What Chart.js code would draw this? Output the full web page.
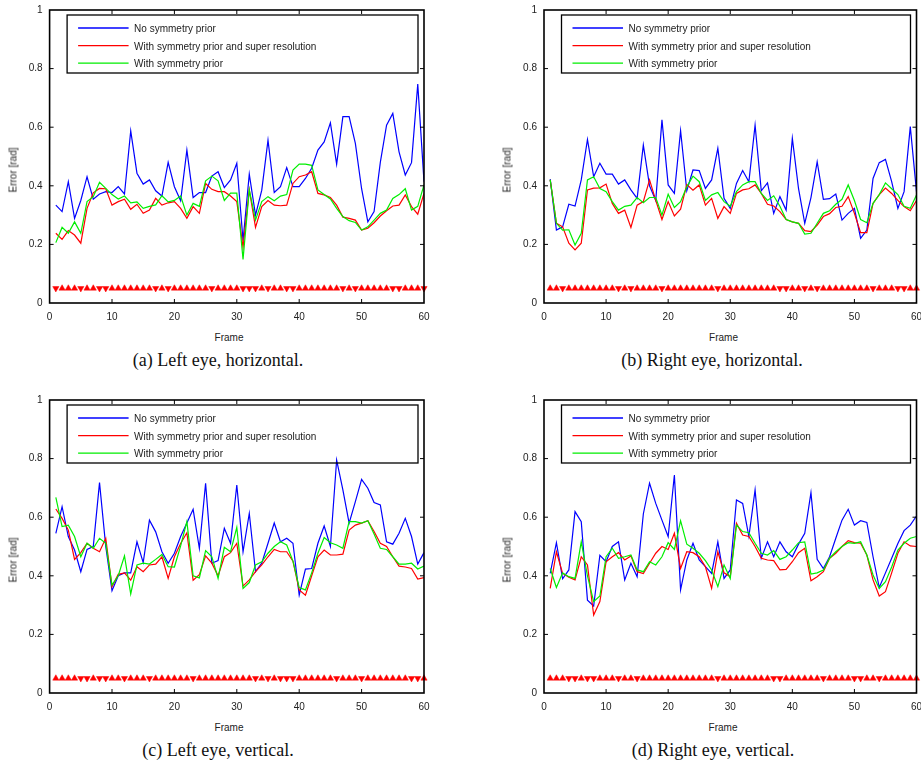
<!DOCTYPE html>
<html>
<head>
<meta charset="utf-8">
<script src="https://cdn.jsdelivr.net/npm/chart.js@4/dist/chart.umd.min.js"></script>
<style>
  html, body { margin: 0; padding: 0; background: #fff; }
  body { width: 921px; height: 764px; position: relative; overflow: hidden; }
  canvas { position: absolute; }
  .lbl { position: absolute; font-family: "Liberation Sans", Arial, sans-serif; font-size: 10px; color: #222; white-space: nowrap; transform: translate(-50%, -50%); }
  .ylbl { transform: translate(-50%, -50%) rotate(-90deg); }
  .cap { position: absolute; font-family: "Liberation Serif", "Times New Roman", serif; font-size: 18px; color: #111; white-space: nowrap; transform: translate(-50%, -50%); }
</style>
</head>
<body>
<script>
// ---------- data ----------
const frames = [1,2,3,4,5,6,7,8,9,10,11,12,13,14,15,16,17,18,19,20,21,22,23,24,25,26,27,28,29,30,
                31,32,33,34,35,36,37,38,39,40,41,42,43,44,45,46,47,48,49,50,51,52,53,54,55,56,57,58,59,60];
const seriesNames = ["No symmetry prior", "With symmetry prior and super resolution", "With symmetry prior"];
const xTicks = [0, 10, 20, 30, 40, 50, 60];
const xTickLabels = ["0", "10", "20", "30", "40", "50", "60"];
const yTicks = [0, 0.2, 0.4, 0.6, 0.8, 1];
const yTickLabels = ["0", "0.2", "0.4", "0.6", "0.8", "1"];
const markerLevel = 0.05;
const captions = ["(a) Left eye, horizontal.", "(b) Right eye, horizontal.", "(c) Left eye, vertical.", "(d) Right eye, vertical."];
const xTitle = "Frame";
const yTitle = "Error [rad]";

// (a) Left eye, horizontal
const aBlue = [0.334,0.312,0.414,0.289,0.35,0.431,0.354,0.372,0.38,0.377,
               0.397,0.372,0.587,0.443,0.406,0.42,0.383,0.365,0.48,0.397,
               0.349,0.522,0.36,0.377,0.377,0.433,0.448,0.394,0.42,0.477,
               0.213,0.44,0.30,0.385,0.556,0.377,0.397,0.462,0.397,0.397,
               0.425,0.46,0.522,0.55,0.615,0.474,0.636,0.636,0.545,0.39,
               0.277,0.312,0.48,0.607,0.647,0.516,0.437,0.479,0.747,0.414];
const aRed  = [0.238,0.217,0.247,0.232,0.204,0.323,0.376,0.391,0.39,0.334,
               0.346,0.354,0.32,0.337,0.306,0.317,0.357,0.334,0.342,0.346,
               0.323,0.289,0.329,0.306,0.408,0.388,0.38,0.38,0.365,0.346,
               0.19,0.386,0.258,0.329,0.35,0.334,0.332,0.334,0.408,0.431,
               0.437,0.448,0.374,0.369,0.36,0.334,0.293,0.289,0.283,0.249,
               0.255,0.274,0.297,0.315,0.331,0.334,0.369,0.329,0.303,0.374];
const aGreen= [0.206,0.258,0.238,0.277,0.238,0.346,0.363,0.412,0.391,0.37,
               0.355,0.365,0.342,0.345,0.323,0.33,0.335,0.366,0.345,0.35,
               0.365,0.30,0.34,0.33,0.417,0.433,0.417,0.35,0.375,0.375,
               0.149,0.386,0.283,0.346,0.363,0.349,0.365,0.37,0.454,0.474,
               0.474,0.47,0.386,0.37,0.355,0.323,0.295,0.281,0.275,0.249,
               0.26,0.283,0.306,0.317,0.357,0.37,0.39,0.317,0.33,0.403];
const aDir  = [-1,1,1,1,-1,1,1,-1,-1,1, 1,1,1,1,1,1,-1,1,-1,1, 1,1,1,1,1,-1,1,1,1,1,
               -1,-1,-1,1,-1,1,1,-1,-1,1, 1,1,1,1,1,1,-1,1,-1,1, 1,1,1,1,-1,-1,1,1,1,-1];

// (b) Right eye, horizontal
const bBlue = [0.423,0.249,0.26,0.337,0.331,0.42,0.558,0.431,0.477,0.44,
               0.44,0.406,0.42,0.386,0.357,0.539,0.40,0.35,0.625,0.403,
               0.374,0.588,0.383,0.454,0.452,0.391,0.42,0.528,0.357,0.323,
               0.408,0.452,0.414,0.607,0.383,0.41,0.306,0.363,0.317,0.562,
               0.39,0.272,0.36,0.482,0.354,0.356,0.372,0.283,0.306,0.323,
               0.221,0.249,0.425,0.479,0.49,0.414,0.323,0.38,0.602,0.38];
const bRed  = [0.42,0.272,0.26,0.204,0.181,0.204,0.386,0.392,0.393,0.406,
               0.34,0.306,0.317,0.258,0.334,0.346,0.42,0.35,0.285,0.346,
               0.297,0.32,0.404,0.385,0.403,0.334,0.357,0.289,0.329,0.306,
               0.374,0.386,0.39,0.403,0.374,0.337,0.331,0.312,0.285,0.277,
               0.272,0.247,0.244,0.266,0.295,0.305,0.326,0.33,0.363,0.306,
               0.24,0.24,0.34,0.37,0.392,0.374,0.35,0.329,0.315,0.35];
const bGreen= [0.42,0.272,0.249,0.25,0.198,0.238,0.42,0.431,0.391,0.38,
               0.346,0.317,0.33,0.334,0.36,0.342,0.36,0.36,0.30,0.371,
               0.326,0.346,0.397,0.433,0.414,0.35,0.369,0.377,0.346,0.33,
               0.38,0.403,0.414,0.414,0.374,0.35,0.366,0.33,0.285,0.277,
               0.272,0.235,0.238,0.272,0.306,0.315,0.337,0.354,0.403,0.35,
               0.285,0.274,0.34,0.37,0.41,0.39,0.37,0.33,0.323,0.369];
const bDir  = [1,1,-1,1,1,1,1,1,1,1, 1,-1,1,-1,1,1,1,1,-1,1, 1,1,1,1,1,1,1,-1,1,1,
               1,1,1,1,1,1,1,-1,-1,1, 1,-1,1,-1,1,1,1,1,1,1, 1,1,-1,1,1,1,-1,-1,1,1];

// (c) Left eye, vertical
const cBlue = [0.545,0.636,0.534,0.488,0.414,0.49,0.5,0.718,0.5,0.349,
               0.40,0.41,0.41,0.516,0.445,0.59,0.55,0.482,0.443,0.477,
               0.534,0.58,0.627,0.494,0.716,0.443,0.452,0.562,0.511,0.71,
               0.482,0.613,0.414,0.443,0.511,0.58,0.516,0.528,0.511,0.334,
               0.423,0.425,0.511,0.57,0.5,0.795,0.693,0.58,0.653,0.729,
               0.699,0.65,0.642,0.516,0.508,0.545,0.596,0.534,0.44,0.479];
const cRed  = [0.628,0.596,0.556,0.456,0.479,0.511,0.494,0.482,0.528,0.363,
               0.405,0.41,0.385,0.431,0.414,0.437,0.44,0.465,0.391,0.465,
               0.51,0.547,0.385,0.404,0.468,0.443,0.40,0.465,0.479,0.511,
               0.365,0.386,0.414,0.437,0.465,0.49,0.482,0.482,0.45,0.352,
               0.334,0.40,0.465,0.488,0.471,0.471,0.474,0.556,0.573,0.58,
               0.588,0.551,0.511,0.5,0.465,0.433,0.43,0.425,0.389,0.394];
const cGreen= [0.668,0.568,0.573,0.534,0.465,0.511,0.494,0.528,0.511,0.368,
               0.40,0.468,0.338,0.437,0.443,0.44,0.456,0.473,0.431,0.43,
               0.502,0.585,0.40,0.393,0.486,0.465,0.391,0.497,0.482,0.565,
               0.357,0.377,0.437,0.448,0.477,0.5,0.516,0.505,0.45,0.36,
               0.352,0.41,0.477,0.531,0.513,0.505,0.494,0.585,0.585,0.58,
               0.588,0.543,0.494,0.49,0.465,0.44,0.44,0.443,0.423,0.433];
const cDir  = [1,1,1,1,-1,-1,1,-1,-1,1, 1,-1,1,1,1,-1,1,1,1,1, 1,1,-1,1,1,1,1,1,1,1,
               1,1,-1,1,-1,1,-1,-1,-1,1, 1,1,1,1,1,-1,1,1,1,-1, 1,1,1,1,1,1,1,-1,-1,1];

// (d) Right eye, vertical
const dBlue = [0.408,0.513,0.39,0.42,0.619,0.585,0.317,0.297,0.47,0.448,
               0.5,0.516,0.386,0.443,0.397,0.611,0.716,0.647,0.59,0.534,
               0.744,0.352,0.454,0.511,0.454,0.431,0.408,0.516,0.391,0.42,
               0.659,0.647,0.534,0.693,0.46,0.516,0.465,0.516,0.482,0.465,
               0.508,0.545,0.684,0.456,0.425,0.465,0.528,0.59,0.627,0.573,
               0.588,0.582,0.465,0.36,0.41,0.46,0.51,0.554,0.573,0.604];
const dRed  = [0.357,0.482,0.408,0.395,0.386,0.465,0.437,0.266,0.312,0.448,
               0.465,0.479,0.454,0.468,0.414,0.408,0.443,0.477,0.5,0.49,
               0.545,0.425,0.482,0.479,0.465,0.431,0.357,0.482,0.41,0.397,
               0.579,0.539,0.534,0.5,0.46,0.454,0.452,0.42,0.422,0.448,
               0.479,0.494,0.383,0.397,0.414,0.46,0.477,0.5,0.52,0.513,
               0.511,0.471,0.386,0.331,0.346,0.41,0.477,0.516,0.502,0.50];
const dGreen= [0.425,0.36,0.41,0.397,0.391,0.516,0.40,0.312,0.331,0.465,
               0.494,0.46,0.465,0.471,0.42,0.414,0.448,0.437,0.465,0.513,
               0.49,0.588,0.508,0.494,0.477,0.452,0.42,0.363,0.437,0.391,
               0.573,0.551,0.547,0.511,0.477,0.471,0.486,0.456,0.465,0.488,
               0.513,0.516,0.406,0.41,0.42,0.46,0.482,0.5,0.513,0.511,
               0.516,0.471,0.403,0.357,0.38,0.43,0.488,0.511,0.528,0.534];
const dDir  = [1,1,1,-1,-1,1,-1,-1,1,1, 1,-1,1,1,-1,1,1,1,1,1, 1,1,1,1,1,1,1,-1,1,1,
               1,1,1,1,1,1,-1,-1,1,1, 1,1,1,1,-1,1,1,1,1,-1, -1,1,1,-1,1,1,1,1,1,1];

// ---------- layout ----------
const colors = ["#0000ff", "#ff0000", "#00ee00"];
const panels = [
  { series: [aBlue, aRed, aGreen], dir: aDir, left: 0,   top: 0,   w: 460, padL: 49.6, padR: 36,  ylx: 13,    fx: 229,   capx: 218 },
  { series: [bBlue, bRed, bGreen], dir: bDir, left: 460, top: 0,   w: 461, padL: 84,   padR: 2.6, ylx: 506.7, fx: 723.5, capx: 712 },
  { series: [cBlue, cRed, cGreen], dir: cDir, left: 0,   top: 390, w: 460, padL: 49.6, padR: 36,  ylx: 13,    fx: 229,   capx: 218 },
  { series: [dBlue, dRed, dGreen], dir: dDir, left: 460, top: 390, w: 461, padL: 84,   padR: 2.6, ylx: 506.7, fx: 723,   capx: 713 }
];
const CH = 330, PT = 10, PB = 303;

const framePlugin = {
  id: 'gnuframe',
  afterDatasetsDraw(chart) {
    const ctx = chart.ctx, ca = chart.chartArea;
    const xs = chart.scales.x, ys = chart.scales.y;
    ctx.save();
    ctx.strokeStyle = '#000';
    ctx.lineWidth = 1;
    ctx.beginPath();
    xs.ticks.forEach(t => {
      const px = xs.getPixelForValue(t.value);
      if (px <= ca.left + 1 || px >= ca.right - 1) return;
      ctx.moveTo(px, ca.bottom); ctx.lineTo(px, ca.bottom - 4);
      ctx.moveTo(px, ca.top); ctx.lineTo(px, ca.top + 4);
    });
    ys.ticks.forEach(t => {
      const py = ys.getPixelForValue(t.value);
      if (py <= ca.top + 1 || py >= ca.bottom - 1) return;
      ctx.moveTo(ca.left, py); ctx.lineTo(ca.left + 4, py);
      ctx.moveTo(ca.right, py); ctx.lineTo(ca.right - 4, py);
    });
    ctx.stroke();
    ctx.lineWidth = 1.6;
    ctx.strokeRect(ca.left, ca.top, ca.right - ca.left, ca.bottom - ca.top);
    // legend box
    const bx = ca.left + 17.5, by = ca.top + 5, bw = (ca.right - 6) - bx, bh = 58;
    ctx.lineWidth = 1.3;
    ctx.strokeRect(bx, by, bw, bh);
    ctx.font = '10px "Liberation Sans", Arial, sans-serif';
    ctx.textBaseline = 'middle';
    ctx.textAlign = 'left';
    ctx.fillStyle = '#222';
    let row = 0;
    chart.data.datasets.forEach(ds => {
      if (!ds.inLegend) return;
      const y = ca.top + 18 + row * 17.6;
      ctx.strokeStyle = ds.borderColor;
      ctx.lineWidth = 1.3;
      ctx.beginPath(); ctx.moveTo(ca.left + 28.5, y); ctx.lineTo(ca.left + 79, y); ctx.stroke();
      ctx.fillText(ds.label, ca.left + 84.5, y + 1.5);
      row++;
    });
    ctx.restore();
  }
};

function addDiv(cls, text, x, y) {
  const d = document.createElement('div');
  d.className = cls;
  d.textContent = text;
  d.style.left = x + 'px';
  d.style.top = y + 'px';
  document.body.appendChild(d);
}

panels.forEach((p, idx) => {
  const cv = document.createElement('canvas');
  cv.width = p.w; cv.height = CH;
  cv.style.left = p.left + 'px'; cv.style.top = p.top + 'px';
  cv.style.width = p.w + 'px'; cv.style.height = CH + 'px';
  document.body.appendChild(cv);

  const datasets = p.series.map((s, i) => ({
    label: seriesNames[i],
    inLegend: true,
    data: frames.map((f, k) => ({ x: f, y: s[k] })),
    borderColor: colors[i],
    backgroundColor: colors[i],
    borderWidth: 1.2,
    pointRadius: 0,
    tension: 0,
    fill: false,
    order: 3 - i
  }));
  datasets.push({
    label: 'marker',
    inLegend: false,
    data: frames.map(f => ({ x: f, y: markerLevel })),
    showLine: false,
    pointStyle: 'triangle',
    pointRadius: 3.6,
    pointRotation: p.dir.map(d => d > 0 ? 0 : 180),
    pointBackgroundColor: '#ff0000',
    pointBorderColor: '#ff0000',
    pointBorderWidth: 0.5,
    borderColor: '#ff0000',
    clip: false,
    order: 5
  });

  new Chart(cv, {
    type: 'line',
    data: { datasets },
    plugins: [framePlugin],
    options: {
      responsive: false,
      animation: false,
      devicePixelRatio: 1,
      layout: { padding: { left: 0, top: PT, right: p.padR, bottom: 0 } },
      plugins: { legend: { display: false }, tooltip: { enabled: false } },
      events: [],
      scales: {
        x: {
          type: 'linear', min: 0, max: 60,
          grid: { display: false, drawTicks: false },
          border: { display: false },
          afterBuildTicks: s => { s.ticks = xTicks.map(v => ({ value: v })); },
          ticks: { padding: 8, color: '#222', maxRotation: 0, autoSkip: false,
                   callback: (v, i) => xTickLabels[i],
                   font: { family: '"Liberation Sans", Arial, sans-serif', size: 10 } },
          afterFit: s => { s.height = CH - PB; s.paddingLeft = 0; s.paddingRight = 0; }
        },
        y: {
          type: 'linear', min: 0, max: 1,
          grid: { display: false, drawTicks: false },
          border: { display: false },
          afterBuildTicks: s => { s.ticks = yTicks.map(v => ({ value: v })); },
          ticks: { padding: 7, color: '#222', autoSkip: false,
                   callback: (v, i) => yTickLabels[i],
                   font: { family: '"Liberation Sans", Arial, sans-serif', size: 10 } },
          afterFit: s => { s.width = p.padL; s.paddingTop = 0; s.paddingBottom = 0; }
        }
      }
    }
  });

  addDiv('lbl ylbl', yTitle, p.ylx, p.top + 170);
  addDiv('lbl', xTitle, p.fx, p.top + 337);
  addDiv('cap', captions[idx], p.capx, p.top + 360);
});
</script>
</body>
</html>
